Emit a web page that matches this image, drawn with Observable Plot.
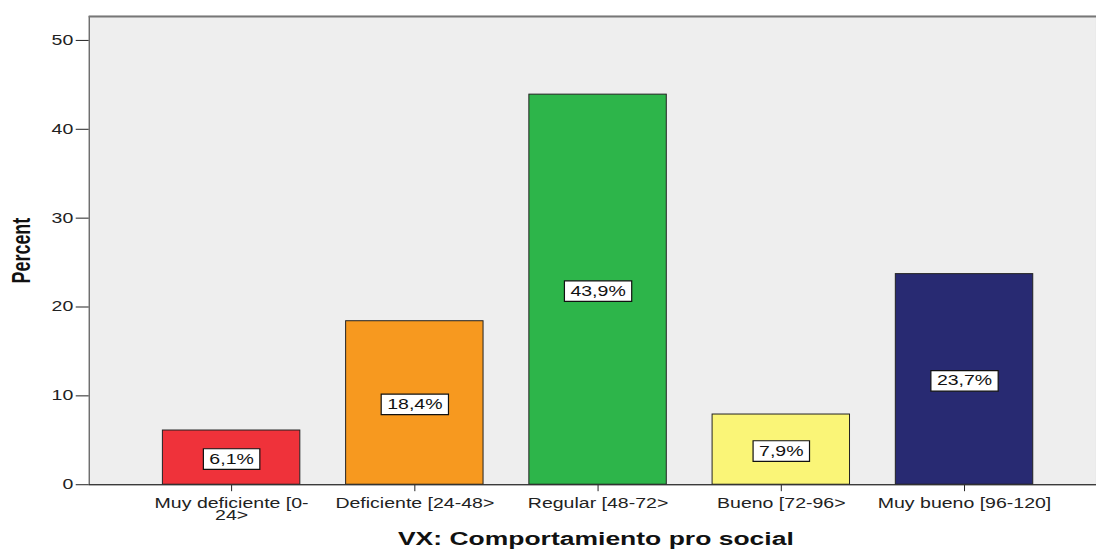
<!DOCTYPE html>
<html>
<head>
<meta charset="utf-8">
<script src="https://cdn.jsdelivr.net/npm/d3@7"></script>
<script src="https://cdn.jsdelivr.net/npm/@observablehq/plot@0.6"></script>
<style>
  html, body { margin: 0; padding: 0; background: white; overflow: hidden; }
  #chart svg { display: block; }
</style>
</head>
<body>
<div id="chart"></div>
<script>
const categories = ["Muy deficiente", "Deficiente", "Regular", "Bueno", "Muy bueno"];
const tickLabels = ["Muy deficiente [0-\n24>", "Deficiente [24-48>", "Regular [48-72>", "Bueno [72-96>", "Muy bueno [96-120]"];
const percents = [6.1, 18.4, 43.9, 7.9, 23.7];
const valueLabels = ["6,1%", "18,4%", "43,9%", "7,9%", "23,7%"];
const colors = ["#ef323a", "#f7991f", "#2db54a", "#faf577", "#282a72"];
const yTicks = [0, 10, 20, 30, 40, 50];
const xTitle = "VX: Comportamiento pro social";
const yTitle = "Percent";

const rows = categories.map((c, i) => ({cat: c, pct: percents[i], label: valueLabels[i], color: colors[i], tick: tickLabels[i]}));
const yMax = 52.7;
const S = 1.4; // horizontal stretch of the original rendering

const plot = Plot.plot({
  width: 1100,
  height: 551,
  marginLeft: 89,
  marginRight: 0,
  marginTop: 16,
  marginBottom: 65,
  style: {fontFamily: "'Liberation Sans', Arial, sans-serif", fontSize: "14px", color: "#222", background: "white"},
  x: {domain: categories, range: [117, 1082.5], padding: 0.25, round: false, label: null, tickSize: 7, tickFormat: () => ""},
  y: {domain: [0, yMax], ticks: yTicks, tickSize: 13, tickPadding: 3, label: null},
  marks: [
    Plot.frame({fill: "#eeeeee", stroke: "#333"}),
    Plot.ruleY([yMax], {stroke: "#777", strokeWidth: 2}),
    Plot.barY(rows, {x: "cat", y: "pct", fill: "color", stroke: "#222", strokeWidth: 1}),
    Plot.text(rows, {x: "cat", y: d => d.pct / 2, dy: 1.5, text: "label", fill: "#111", fontSize: 14, ariaLabel: () => "bar-label"}),
    Plot.text(rows, {x: "cat", text: "tick", frameAnchor: "bottom", lineAnchor: "top", dy: 14, lineHeight: 0.9, fill: "#222", fontSize: 14}),
    Plot.text([xTitle], {frameAnchor: "bottom", dy: 60, dx: 3, fontWeight: "bold", fontSize: 19, fill: "#111"}),
    Plot.text([yTitle], {frameAnchor: "left", textAnchor: "middle", dx: -67, rotate: -90, fontWeight: "bold", fontSize: 18, fill: "#111"}),
    Plot.ruleY([0], {stroke: "#333"})
  ]
});
document.getElementById("chart").appendChild(plot);

const svg = plot.tagName.toLowerCase() === "svg" ? plot : plot.querySelector("svg");
const ns = "http://www.w3.org/2000/svg";
svg.querySelectorAll("text").forEach(t => {
  let tr = t.getAttribute("transform") || "";
  tr += /rotate\(-90\)/.test(tr) ? ` scale(1,${S})` : ` scale(${S},1)`;
  t.setAttribute("transform", tr.trim());
});
svg.querySelectorAll('text[aria-label="bar-label"]').forEach(t => {
  const b = t.getBBox();
  const r = document.createElementNS(ns, "rect");
  r.setAttribute("x", b.x - 6 / S);
  r.setAttribute("width", b.width + 12 / S);
  r.setAttribute("y", b.y - 2.5);
  r.setAttribute("height", b.height + 5);
  r.setAttribute("transform", t.getAttribute("transform"));
  r.setAttribute("fill", "white");
  r.setAttribute("stroke", "#111");
  r.setAttribute("stroke-width", "1.2");
  r.setAttribute("vector-effect", "non-scaling-stroke");
  t.parentNode.insertBefore(r, t);
});
</script>
</body>
</html>
